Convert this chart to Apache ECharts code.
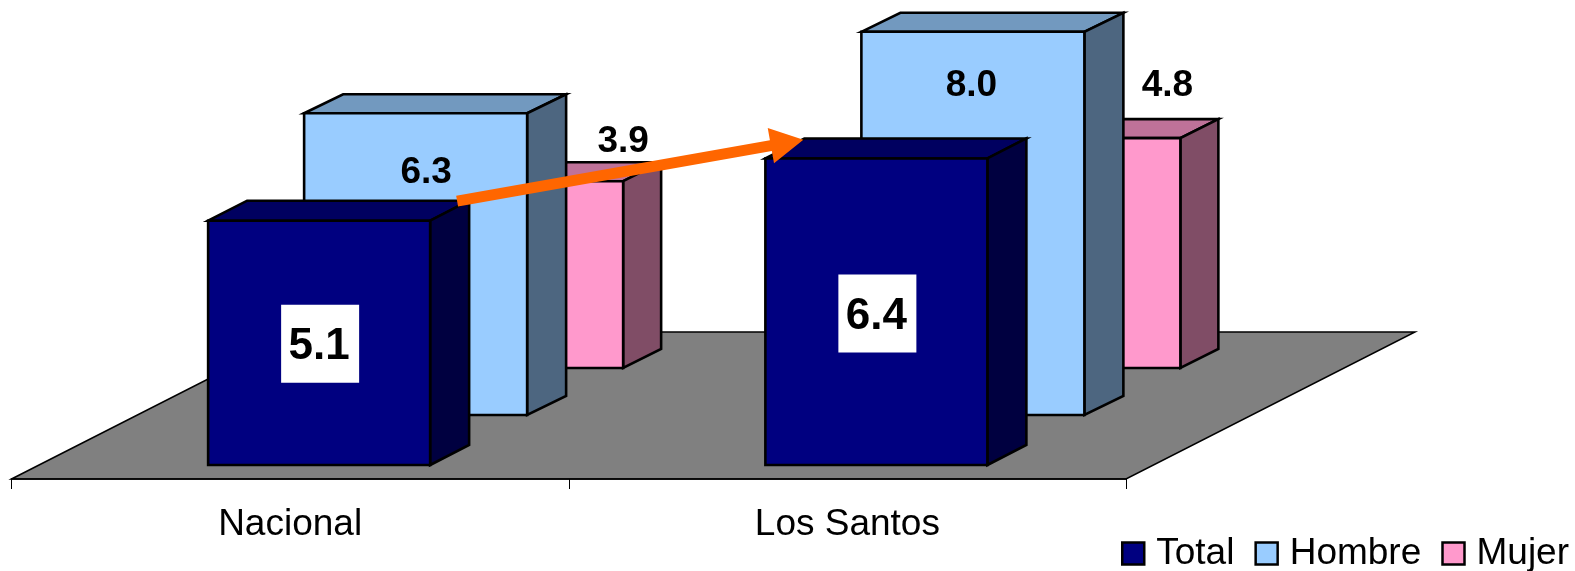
<!DOCTYPE html>
<html>
<head>
<meta charset="utf-8">
<style>html,body{margin:0;padding:0;background:#fff}#c{width:1575px;height:571px}</style>
<script src="https://cdn.jsdelivr.net/npm/echarts@6/dist/echarts.min.js"></script>
</head>
<body>
<div id="c"></div>
<script>
var categories = ['Nacional', 'Los Santos'];
var totalValues = [5.1, 6.4];
var hombreValues = [6.3, 8.0];
var mujerValues = [3.9, 4.8];
var legendNames = ['Total', 'Hombre', 'Mujer'];

var FONT = '"Liberation Sans", Arial, sans-serif';

// Drawing styles: bar extents relative to the category centre, baseline lift, 3D depth, colours
var totalStyle = {x0:-82, x1:140, lift:14, dx:39, dy:20, front:'#000080', top:'#000060', side:'#000040',
  labelFont:'bold 44px '+FONT, labelBox:[78,78], labelPos:[[30,123],[30,155]], textShift:[-1,3]};
var hombreStyle = {x0:14, x1:237, lift:64, dx:39, dy:19, front:'#99CCFF', top:'#7299BF', side:'#4D6680',
  labelFont:'bold 37px '+FONT, labelPos:[[136,60],[124,54]], textShift:[0,0]};
var mujerStyle = {x0:111, x1:333, lift:111, dx:38, dy:19, front:'#FF99CC', top:'#BF7299', side:'#804D66',
  labelFont:'bold 37px '+FONT, labelPos:[[333,-39],[320,-52]], textShift:[0,0]};

function barRenderer(s) {
  return function (params, api) {
    var i = api.value(0), v = api.value(1);
    var base = api.coord([i, 0]), topPt = api.coord([i, v]);
    var xL = base[0] + s.x0, xR = base[0] + s.x1;
    var yB = base[1] - s.lift, yT = topPt[1] - s.lift;
    var line = {stroke:'#000', lineWidth:2.6, lineJoin:'miter'};
    function poly(pts, fill) {
      return {type:'polygon', shape:{points:pts}, style:Object.assign({fill:fill}, line)};
    }
    var kids = [
      poly([[xL,yT],[xL+s.dx,yT-s.dy],[xR+s.dx,yT-s.dy],[xR,yT]], s.top),
      poly([[xR,yB],[xR,yT],[xR+s.dx,yT-s.dy],[xR+s.dx,yB-s.dy]], s.side),
      poly([[xL,yB],[xL,yT],[xR,yT],[xR,yB]], s.front)
    ];
    var p = s.labelPos[i], lx = base[0] + p[0], ly = yT + p[1];
    if (s.labelBox) {
      kids.push({type:'rect', shape:{x:lx-s.labelBox[0]/2, y:ly-s.labelBox[1]/2, width:s.labelBox[0], height:s.labelBox[1]},
        style:{fill:'#fff'}});
    }
    kids.push({type:'text', style:{x:lx+s.textShift[0], y:ly+s.textShift[1], text:v.toFixed(1), font:s.labelFont, fill:'#000', align:'center', verticalAlign:'middle'}});
    return {type:'group', children:kids};
  };
}

function floorRenderer(params, api) {
  var cs = params.coordSys;
  var yF = cs.y + cs.height, xA = cs.x, xB = cs.x + cs.width;
  var bx = 289, by = 147;
  return {type:'polygon', shape:{points:[[xA,yF],[xA+bx,yF-by],[xB+bx,yF-by],[xB,yF]]},
    style:{fill:'#808080', stroke:'#000', lineWidth:1.5}};
}

// Orange arrow annotation, anchored to the chart's scales: [category, value, x offset]
var arrowFrom = [0, 5.8, 167];
var arrowTo = [1, 7.08, -44];
function arrowRenderer(params, api) {
  var a = api.coord([arrowFrom[0], arrowFrom[1]]), b = api.coord([arrowTo[0], arrowTo[1]]);
  var x0 = a[0]+arrowFrom[2], y0 = a[1], x1 = b[0]+arrowTo[2], y1 = b[1];
  var dx = x1-x0, dy = y1-y0, len = Math.sqrt(dx*dx+dy*dy), ux = dx/len, uy = dy/len, nx = -uy, ny = ux;
  var hl = 33, hw = 18, sw = 5.5;
  var hx = x1-ux*hl, hy = y1-uy*hl;
  return {type:'polygon', shape:{points:[
    [x0+nx*sw,y0+ny*sw],[hx+nx*sw,hy+ny*sw],[hx+nx*hw,hy+ny*hw],[x1,y1],
    [hx-nx*hw,hy-ny*hw],[hx-nx*sw,hy-ny*sw],[x0-nx*sw,y0-ny*sw]]},
    style:{fill:'#FF6600'}};
}

function pairs(arr){ return arr.map(function(v,i){ return [i,v]; }); }

var chart = echarts.init(document.getElementById('c'), null, {renderer:'canvas'});
chart.setOption({
  animation:false,
  backgroundColor:'#fff',
  textStyle:{fontFamily:FONT},
  grid:{left:11.5, right:449, top:0, bottom:92, containLabel:false},
  xAxis:{type:'category', data:categories,
    axisLine:{show:true, lineStyle:{color:'#000', width:1.5}},
    axisTick:{show:true, length:10, alignWithLabel:false, lineStyle:{color:'#000', width:1}},
    axisLabel:{fontSize:37, color:'#000', margin:27, fontFamily:FONT},
    splitLine:{show:false}, z:10},
  yAxis:{type:'value', min:0, max:10, show:false, splitLine:{show:false}},
  legend:{data:legendNames, left:1121, top:535, width:800, padding:0, itemWidth:22, itemHeight:22, itemGap:20, icon:'rect',
    itemStyle:{borderColor:'#000', borderWidth:2.5},
    textStyle:{fontSize:37, color:'#000', fontFamily:FONT, padding:[0,0,0,7]}},
  tooltip:{show:false},
  series:[
    {type:'custom', name:'floor', z:1, silent:true, clip:false, data:[[0,0]], encode:{x:0,y:1}, renderItem:floorRenderer},
    {type:'custom', name:'Mujer', z:2, clip:false, itemStyle:{color:mujerStyle.front}, data:pairs(mujerValues), encode:{x:0,y:1}, renderItem:barRenderer(mujerStyle)},
    {type:'custom', name:'Hombre', z:3, clip:false, itemStyle:{color:hombreStyle.front}, data:pairs(hombreValues), encode:{x:0,y:1}, renderItem:barRenderer(hombreStyle)},
    {type:'custom', name:'Total', z:4, clip:false, itemStyle:{color:totalStyle.front}, data:pairs(totalValues), encode:{x:0,y:1}, renderItem:barRenderer(totalStyle)},
    {type:'custom', name:'arrow', z:5, silent:true, clip:false, data:[[0,0]], encode:{x:0,y:1}, renderItem:arrowRenderer}
  ]
});
</script>
</body>
</html>
